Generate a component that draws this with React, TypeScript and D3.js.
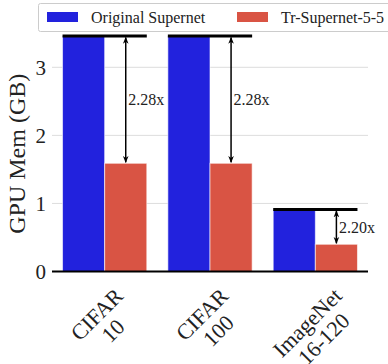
import React, { useEffect, useRef } from "react";
import * as d3 from "d3";

const categories = [["CIFAR", "10"], ["CIFAR", "100"], ["ImageNet", "16-120"]];
const seriesNames = ["Original Supernet", "Tr-Supernet-5-5"];
const originalMem = [3.46, 3.46, 0.91];
const trMem = [1.59, 1.59, 0.40];
const ratioLabels = ["2.28x", "2.28x", "2.20x"];
const yTicks = [0, 1, 2, 3];

const W = 388, H = 364;
const FONT = "Liberation Serif, Times New Roman, DejaVu Serif, serif";
const BLUE = "#2222dd", RED = "#d95444";

export default function App() {
  const ref = useRef<SVGSVGElement>(null);
  useEffect(() => {
    const svg = d3.select(ref.current);
    svg.selectAll("*").remove();
    const left = 52, right = 368, bottom = 271.5, top = 36;
    const x = d3.scaleBand<string>().domain(categories.map((_, i) => String(i))).range([left, right]).paddingInner(0.2).paddingOuter(0.1);
    const sub = d3.scaleBand<string>().domain(["0", "1"]).range([0, x.bandwidth()]);
    const y = d3.scaleLinear().domain([0, d3.max(originalMem) as number]).range([bottom, top]);

    const defs = svg.append("defs");
    defs.append("marker").attr("id", "ah").attr("viewBox", "0 0 10 10").attr("refX", 9).attr("refY", 5)
      .attr("markerWidth", 7).attr("markerHeight", 7).attr("markerUnits", "userSpaceOnUse").attr("orient", "auto-start-reverse")
      .append("path").attr("d", "M0,1 L10,5 L0,9 L3,5 Z").attr("fill", "#000");

    // grid
    svg.append("g").selectAll("line").data(yTicks.filter(t => t > 0)).join("line")
      .attr("x1", left).attr("x2", right).attr("y1", d => y(d)).attr("y2", d => y(d))
      .attr("stroke", "#dddddd").attr("stroke-width", 1);

    // y tick labels
    svg.append("g").selectAll("text").data(yTicks).join("text")
      .attr("x", 46).attr("y", d => y(d)).attr("dy", "0.35em").attr("text-anchor", "end")
      .style("font-family", FONT).attr("font-size", 21).attr("fill", "#222").text(d => String(d));

    // y label
    svg.append("text").attr("transform", `translate(25,${(top + bottom) / 2}) rotate(-90)`)
      .attr("text-anchor", "middle").style("font-family", FONT).attr("font-size", 24).attr("fill", "#222")
      .text("GPU Mem (GB)");

    const series = [originalMem, trMem];
    const colors = [BLUE, RED];
    series.forEach((vals, s) => {
      svg.append("g").selectAll("rect").data(vals).join("rect")
        .attr("x", (_, i) => (x(String(i)) as number) + (sub(String(s)) as number))
        .attr("width", sub.bandwidth())
        .attr("y", d => y(d)).attr("height", d => bottom - y(d))
        .attr("fill", colors[s]).attr("stroke", "#ffffff").attr("stroke-opacity", 0.6).attr("stroke-width", 1);
    });

    // annotations
    categories.forEach((_, i) => {
      const x0 = x(String(i)) as number;
      const yO = y(originalMem[i]), yT = y(trMem[i]);
      svg.append("line").attr("x1", x0).attr("x2", x0 + x.bandwidth()).attr("y1", yO).attr("y2", yO)
        .attr("stroke", "#000").attr("stroke-width", 3);
      const ax = x0 + (sub("1") as number) + sub.bandwidth() / 2;
      svg.append("line").attr("x1", ax).attr("x2", ax).attr("y1", yO + 1.5).attr("y2", yT - 1)
        .attr("stroke", "#000").attr("stroke-width", 1.5)
        .attr("marker-start", "url(#ah)").attr("marker-end", "url(#ah)");
      svg.append("text").attr("x", ax + 2.5).attr("y", (yO + yT) / 2).attr("dy", "0.35em")
        .style("font-family", FONT).attr("font-size", 16).attr("fill", "#222").text(ratioLabels[i]);
    });

    // x axis
    svg.append("line").attr("x1", left).attr("x2", right).attr("y1", bottom).attr("y2", bottom)
      .attr("stroke", "#000").attr("stroke-width", 2);

    // x tick labels rotated
    categories.forEach((lines, i) => {
      const cx = (x(String(i)) as number) + x.bandwidth() / 2;
      const g = svg.append("g");
      const lh = 23;
      const t = g.append("text").style("font-family", FONT).attr("font-size", 22).attr("fill", "#222").attr("text-anchor", "middle");
      lines.forEach((ln, k) => {
        t.append("tspan").attr("x", 0).attr("y", (k - (lines.length - 1) / 2) * lh).attr("dy", "0.35em").text(ln);
      });
      const bb = (g.node() as SVGGElement).getBBox();
      const Wb = bb.width, Hb = bb.height;
      const cy = 283 + 0.3536 * (Wb + Hb);
      g.attr("transform", `translate(${cx},${cy}) rotate(-45)`);
    });

    // legend
    const lg = svg.append("g");
    lg.append("rect").attr("x", 38.5).attr("y", 3.5).attr("width", 360).attr("height", 28).attr("rx", 2)
      .attr("fill", "#fff").attr("stroke", "#cccccc").attr("stroke-width", 1);
    const lx = [47, 237];
    seriesNames.forEach((n, s) => {
      lg.append("rect").attr("x", lx[s]).attr("y", 12).attr("width", 31).attr("height", 10).attr("fill", colors[s]);
      lg.append("text").attr("x", lx[s] + 44).attr("y", 17).attr("dy", "0.35em")
        .style("font-family", FONT).attr("font-size", 16).attr("fill", "#222").text(n);
    });
  }, []);
  return (
    <svg ref={ref} width={W} height={H} style={{ position: "absolute", left: 0, top: 0, background: "#fff" }} />
  );
}
